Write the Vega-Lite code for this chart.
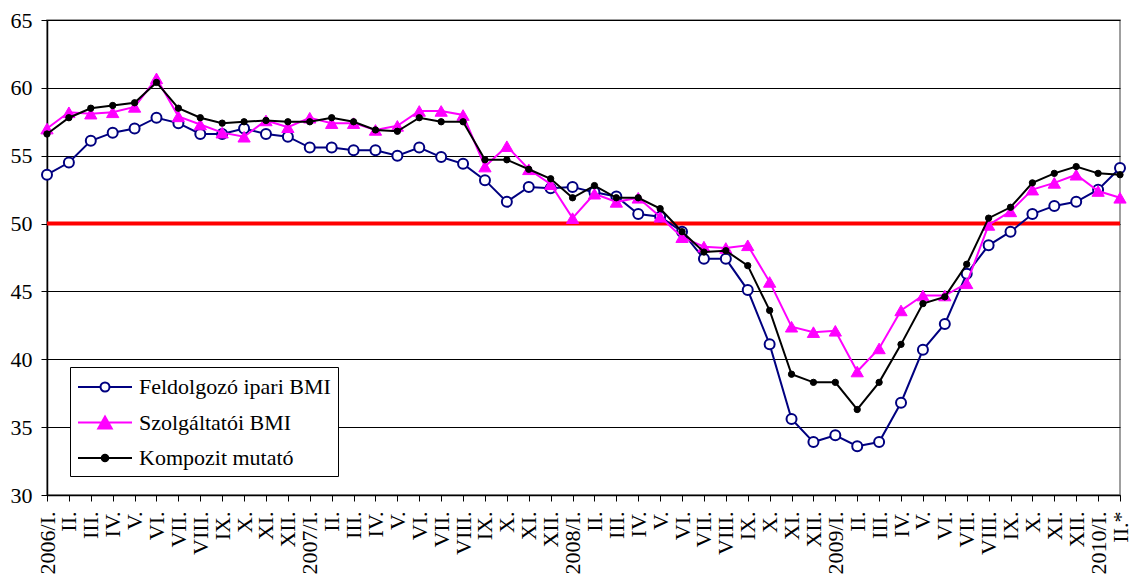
{
  "$schema": "https://vega.github.io/schema/vega-lite/v6.json",
  "width": 1073,
  "height": 475,
  "autosize": {"type": "none"},
  "padding": {"left": 47, "top": 20, "right": 11, "bottom": 84},
  "background": "white",
  "config": {
    "view": {"stroke": "#808080", "strokeWidth": 1.5},
    "font": "Liberation Serif",
    "axis": {
      "labelFont": "Liberation Serif", "labelColor": "black",
      "tickColor": "black", "tickWidth": 1, "tickSize": 6,
      "domainColor": "black", "domainWidth": 1.5
    },
    "axisX": {
      "labelExpr": "split(datum.value, '|')[1]",
      "labelAngle": -90, "labelAlign": "right", "labelBaseline": "middle",
      "labelFontSize": 22, "labelPadding": 10, "labelOverlap": false, "labelLimit": 200,
      "grid": false
    },
    "axisY": {
      "grid": true, "gridColor": "black", "gridWidth": 1, "gridOpacity": 1,
      "labelFontSize": 22, "labelPadding": 9
    },
    "legend": {
      "labelFont": "Liberation Serif", "labelFontSize": 22, "labelColor": "black", "labelLimit": 400
    }
  },
  "datasets": {
    "bmi": [
      {"month": "2006-01|2006/I.", "series": "Feldolgozó ipari BMI", "value": 53.6},
      {"month": "2006-02|II.", "series": "Feldolgozó ipari BMI", "value": 54.5},
      {"month": "2006-03|III.", "series": "Feldolgozó ipari BMI", "value": 56.1},
      {"month": "2006-04|IV.", "series": "Feldolgozó ipari BMI", "value": 56.7},
      {"month": "2006-05|V.", "series": "Feldolgozó ipari BMI", "value": 57.0},
      {"month": "2006-06|VI.", "series": "Feldolgozó ipari BMI", "value": 57.8},
      {"month": "2006-07|VII.", "series": "Feldolgozó ipari BMI", "value": 57.4},
      {"month": "2006-08|VIII.", "series": "Feldolgozó ipari BMI", "value": 56.6},
      {"month": "2006-09|IX.", "series": "Feldolgozó ipari BMI", "value": 56.6},
      {"month": "2006-10|X.", "series": "Feldolgozó ipari BMI", "value": 57.0},
      {"month": "2006-11|XI.", "series": "Feldolgozó ipari BMI", "value": 56.6},
      {"month": "2006-12|XII.", "series": "Feldolgozó ipari BMI", "value": 56.4},
      {"month": "2007-01|2007/I.", "series": "Feldolgozó ipari BMI", "value": 55.6},
      {"month": "2007-02|II.", "series": "Feldolgozó ipari BMI", "value": 55.6},
      {"month": "2007-03|III.", "series": "Feldolgozó ipari BMI", "value": 55.4},
      {"month": "2007-04|IV.", "series": "Feldolgozó ipari BMI", "value": 55.4},
      {"month": "2007-05|V.", "series": "Feldolgozó ipari BMI", "value": 55.0},
      {"month": "2007-06|VI.", "series": "Feldolgozó ipari BMI", "value": 55.6},
      {"month": "2007-07|VII.", "series": "Feldolgozó ipari BMI", "value": 54.9},
      {"month": "2007-08|VIII.", "series": "Feldolgozó ipari BMI", "value": 54.4},
      {"month": "2007-09|IX.", "series": "Feldolgozó ipari BMI", "value": 53.2},
      {"month": "2007-10|X.", "series": "Feldolgozó ipari BMI", "value": 51.6},
      {"month": "2007-11|XI.", "series": "Feldolgozó ipari BMI", "value": 52.7},
      {"month": "2007-12|XII.", "series": "Feldolgozó ipari BMI", "value": 52.6},
      {"month": "2008-01|2008/I.", "series": "Feldolgozó ipari BMI", "value": 52.7},
      {"month": "2008-02|II.", "series": "Feldolgozó ipari BMI", "value": 52.3},
      {"month": "2008-03|III.", "series": "Feldolgozó ipari BMI", "value": 52.0},
      {"month": "2008-04|IV.", "series": "Feldolgozó ipari BMI", "value": 50.7},
      {"month": "2008-05|V.", "series": "Feldolgozó ipari BMI", "value": 50.5},
      {"month": "2008-06|VI.", "series": "Feldolgozó ipari BMI", "value": 49.4},
      {"month": "2008-07|VII.", "series": "Feldolgozó ipari BMI", "value": 47.4},
      {"month": "2008-08|VIII.", "series": "Feldolgozó ipari BMI", "value": 47.4},
      {"month": "2008-09|IX.", "series": "Feldolgozó ipari BMI", "value": 45.1},
      {"month": "2008-10|X.", "series": "Feldolgozó ipari BMI", "value": 41.1},
      {"month": "2008-11|XI.", "series": "Feldolgozó ipari BMI", "value": 35.6},
      {"month": "2008-12|XII.", "series": "Feldolgozó ipari BMI", "value": 33.9},
      {"month": "2009-01|2009/I.", "series": "Feldolgozó ipari BMI", "value": 34.4},
      {"month": "2009-02|II.", "series": "Feldolgozó ipari BMI", "value": 33.6},
      {"month": "2009-03|III.", "series": "Feldolgozó ipari BMI", "value": 33.9},
      {"month": "2009-04|IV.", "series": "Feldolgozó ipari BMI", "value": 36.8},
      {"month": "2009-05|V.", "series": "Feldolgozó ipari BMI", "value": 40.7},
      {"month": "2009-06|VI.", "series": "Feldolgozó ipari BMI", "value": 42.6},
      {"month": "2009-07|VII.", "series": "Feldolgozó ipari BMI", "value": 46.3},
      {"month": "2009-08|VIII.", "series": "Feldolgozó ipari BMI", "value": 48.4},
      {"month": "2009-09|IX.", "series": "Feldolgozó ipari BMI", "value": 49.4},
      {"month": "2009-10|X.", "series": "Feldolgozó ipari BMI", "value": 50.7},
      {"month": "2009-11|XI.", "series": "Feldolgozó ipari BMI", "value": 51.3},
      {"month": "2009-12|XII.", "series": "Feldolgozó ipari BMI", "value": 51.6},
      {"month": "2010-01|2010/I.", "series": "Feldolgozó ipari BMI", "value": 52.5},
      {"month": "2010-02|II.*", "series": "Feldolgozó ipari BMI", "value": 54.1},

      {"month": "2006-01|2006/I.", "series": "Szolgáltatói BMI", "value": 57.0},
      {"month": "2006-02|II.", "series": "Szolgáltatói BMI", "value": 58.2},
      {"month": "2006-03|III.", "series": "Szolgáltatói BMI", "value": 58.1},
      {"month": "2006-04|IV.", "series": "Szolgáltatói BMI", "value": 58.2},
      {"month": "2006-05|V.", "series": "Szolgáltatói BMI", "value": 58.6},
      {"month": "2006-06|VI.", "series": "Szolgáltatói BMI", "value": 60.7},
      {"month": "2006-07|VII.", "series": "Szolgáltatói BMI", "value": 57.9},
      {"month": "2006-08|VIII.", "series": "Szolgáltatói BMI", "value": 57.3},
      {"month": "2006-09|IX.", "series": "Szolgáltatói BMI", "value": 56.7},
      {"month": "2006-10|X.", "series": "Szolgáltatói BMI", "value": 56.4},
      {"month": "2006-11|XI.", "series": "Szolgáltatói BMI", "value": 57.6},
      {"month": "2006-12|XII.", "series": "Szolgáltatói BMI", "value": 57.1},
      {"month": "2007-01|2007/I.", "series": "Szolgáltatói BMI", "value": 57.8},
      {"month": "2007-02|II.", "series": "Szolgáltatói BMI", "value": 57.4},
      {"month": "2007-03|III.", "series": "Szolgáltatói BMI", "value": 57.4},
      {"month": "2007-04|IV.", "series": "Szolgáltatói BMI", "value": 56.9},
      {"month": "2007-05|V.", "series": "Szolgáltatói BMI", "value": 57.2},
      {"month": "2007-06|VI.", "series": "Szolgáltatói BMI", "value": 58.3},
      {"month": "2007-07|VII.", "series": "Szolgáltatói BMI", "value": 58.3},
      {"month": "2007-08|VIII.", "series": "Szolgáltatói BMI", "value": 58.0},
      {"month": "2007-09|IX.", "series": "Szolgáltatói BMI", "value": 54.2},
      {"month": "2007-10|X.", "series": "Szolgáltatói BMI", "value": 55.7},
      {"month": "2007-11|XI.", "series": "Szolgáltatói BMI", "value": 54.0},
      {"month": "2007-12|XII.", "series": "Szolgáltatói BMI", "value": 52.9},
      {"month": "2008-01|2008/I.", "series": "Szolgáltatói BMI", "value": 50.4},
      {"month": "2008-02|II.", "series": "Szolgáltatói BMI", "value": 52.2},
      {"month": "2008-03|III.", "series": "Szolgáltatói BMI", "value": 51.6},
      {"month": "2008-04|IV.", "series": "Szolgáltatói BMI", "value": 51.9},
      {"month": "2008-05|V.", "series": "Szolgáltatói BMI", "value": 50.5},
      {"month": "2008-06|VI.", "series": "Szolgáltatói BMI", "value": 49.0},
      {"month": "2008-07|VII.", "series": "Szolgáltatói BMI", "value": 48.3},
      {"month": "2008-08|VIII.", "series": "Szolgáltatói BMI", "value": 48.2},
      {"month": "2008-09|IX.", "series": "Szolgáltatói BMI", "value": 48.4},
      {"month": "2008-10|X.", "series": "Szolgáltatói BMI", "value": 45.7},
      {"month": "2008-11|XI.", "series": "Szolgáltatói BMI", "value": 42.4},
      {"month": "2008-12|XII.", "series": "Szolgáltatói BMI", "value": 42.0},
      {"month": "2009-01|2009/I.", "series": "Szolgáltatói BMI", "value": 42.1},
      {"month": "2009-02|II.", "series": "Szolgáltatói BMI", "value": 39.1},
      {"month": "2009-03|III.", "series": "Szolgáltatói BMI", "value": 40.8},
      {"month": "2009-04|IV.", "series": "Szolgáltatói BMI", "value": 43.6},
      {"month": "2009-05|V.", "series": "Szolgáltatói BMI", "value": 44.7},
      {"month": "2009-06|VI.", "series": "Szolgáltatói BMI", "value": 44.7},
      {"month": "2009-07|VII.", "series": "Szolgáltatói BMI", "value": 45.6},
      {"month": "2009-08|VIII.", "series": "Szolgáltatói BMI", "value": 49.9},
      {"month": "2009-09|IX.", "series": "Szolgáltatói BMI", "value": 50.9},
      {"month": "2009-10|X.", "series": "Szolgáltatói BMI", "value": 52.5},
      {"month": "2009-11|XI.", "series": "Szolgáltatói BMI", "value": 53.0},
      {"month": "2009-12|XII.", "series": "Szolgáltatói BMI", "value": 53.6},
      {"month": "2010-01|2010/I.", "series": "Szolgáltatói BMI", "value": 52.4},
      {"month": "2010-02|II.*", "series": "Szolgáltatói BMI", "value": 51.9},

      {"month": "2006-01|2006/I.", "series": "Kompozit mutató", "value": 56.6},
      {"month": "2006-02|II.", "series": "Kompozit mutató", "value": 57.8},
      {"month": "2006-03|III.", "series": "Kompozit mutató", "value": 58.5},
      {"month": "2006-04|IV.", "series": "Kompozit mutató", "value": 58.7},
      {"month": "2006-05|V.", "series": "Kompozit mutató", "value": 58.9},
      {"month": "2006-06|VI.", "series": "Kompozit mutató", "value": 60.4},
      {"month": "2006-07|VII.", "series": "Kompozit mutató", "value": 58.5},
      {"month": "2006-08|VIII.", "series": "Kompozit mutató", "value": 57.8},
      {"month": "2006-09|IX.", "series": "Kompozit mutató", "value": 57.4},
      {"month": "2006-10|X.", "series": "Kompozit mutató", "value": 57.5},
      {"month": "2006-11|XI.", "series": "Kompozit mutató", "value": 57.6},
      {"month": "2006-12|XII.", "series": "Kompozit mutató", "value": 57.5},
      {"month": "2007-01|2007/I.", "series": "Kompozit mutató", "value": 57.5},
      {"month": "2007-02|II.", "series": "Kompozit mutató", "value": 57.8},
      {"month": "2007-03|III.", "series": "Kompozit mutató", "value": 57.5},
      {"month": "2007-04|IV.", "series": "Kompozit mutató", "value": 56.9},
      {"month": "2007-05|V.", "series": "Kompozit mutató", "value": 56.8},
      {"month": "2007-06|VI.", "series": "Kompozit mutató", "value": 57.8},
      {"month": "2007-07|VII.", "series": "Kompozit mutató", "value": 57.5},
      {"month": "2007-08|VIII.", "series": "Kompozit mutató", "value": 57.5},
      {"month": "2007-09|IX.", "series": "Kompozit mutató", "value": 54.7},
      {"month": "2007-10|X.", "series": "Kompozit mutató", "value": 54.7},
      {"month": "2007-11|XI.", "series": "Kompozit mutató", "value": 54.0},
      {"month": "2007-12|XII.", "series": "Kompozit mutató", "value": 53.3},
      {"month": "2008-01|2008/I.", "series": "Kompozit mutató", "value": 51.9},
      {"month": "2008-02|II.", "series": "Kompozit mutató", "value": 52.8},
      {"month": "2008-03|III.", "series": "Kompozit mutató", "value": 51.9},
      {"month": "2008-04|IV.", "series": "Kompozit mutató", "value": 51.9},
      {"month": "2008-05|V.", "series": "Kompozit mutató", "value": 51.1},
      {"month": "2008-06|VI.", "series": "Kompozit mutató", "value": 49.4},
      {"month": "2008-07|VII.", "series": "Kompozit mutató", "value": 47.9},
      {"month": "2008-08|VIII.", "series": "Kompozit mutató", "value": 48.0},
      {"month": "2008-09|IX.", "series": "Kompozit mutató", "value": 46.9},
      {"month": "2008-10|X.", "series": "Kompozit mutató", "value": 43.6},
      {"month": "2008-11|XI.", "series": "Kompozit mutató", "value": 38.9},
      {"month": "2008-12|XII.", "series": "Kompozit mutató", "value": 38.3},
      {"month": "2009-01|2009/I.", "series": "Kompozit mutató", "value": 38.3},
      {"month": "2009-02|II.", "series": "Kompozit mutató", "value": 36.3},
      {"month": "2009-03|III.", "series": "Kompozit mutató", "value": 38.3},
      {"month": "2009-04|IV.", "series": "Kompozit mutató", "value": 41.1},
      {"month": "2009-05|V.", "series": "Kompozit mutató", "value": 44.1},
      {"month": "2009-06|VI.", "series": "Kompozit mutató", "value": 44.6},
      {"month": "2009-07|VII.", "series": "Kompozit mutató", "value": 47.0},
      {"month": "2009-08|VIII.", "series": "Kompozit mutató", "value": 50.4},
      {"month": "2009-09|IX.", "series": "Kompozit mutató", "value": 51.2},
      {"month": "2009-10|X.", "series": "Kompozit mutató", "value": 53.0},
      {"month": "2009-11|XI.", "series": "Kompozit mutató", "value": 53.7},
      {"month": "2009-12|XII.", "series": "Kompozit mutató", "value": 54.2},
      {"month": "2010-01|2010/I.", "series": "Kompozit mutató", "value": 53.7},
      {"month": "2010-02|II.*", "series": "Kompozit mutató", "value": 53.6}
    ],
    "threshold": [{"level": 50}]
  },
  "data": {"name": "bmi"},
  "layer": [
    {
      "data": {"name": "threshold"},
      "mark": {"type": "rule", "color": "#ff0000", "strokeWidth": 4},
      "encoding": {
        "y": {
          "field": "level", "type": "quantitative",
          "scale": {"domain": [30, 65], "nice": false, "zero": false},
          "axis": {"title": null, "values": [30, 35, 40, 45, 50, 55, 60, 65], "labelFont": "Liberation Serif", "labelFontSize": 22}
        }
      }
    },
    {
      "transform": [{"filter": {"field": "series", "equal": "Feldolgozó ipari BMI"}}],
      "mark": {"type": "line", "strokeWidth": 2, "color": "#000080"},
      "encoding": {
        "x": {"field": "month", "type": "ordinal", "scale": {"type": "point", "padding": 0}, "axis": {"title": null}},
        "y": {"field": "value", "type": "quantitative", "axis": {"title": null, "values": [30, 35, 40, 45, 50, 55, 60, 65]}}
      }
    },
    {
      "transform": [{"filter": {"field": "series", "equal": "Feldolgozó ipari BMI"}}],
      "mark": {"type": "point", "shape": "circle", "fill": "#ffffff", "stroke": "#000080", "strokeWidth": 2, "size": 100, "opacity": 1},
      "encoding": {
        "x": {"field": "month", "type": "ordinal", "axis": {"title": null}},
        "y": {"field": "value", "type": "quantitative", "axis": {"title": null, "values": [30, 35, 40, 45, 50, 55, 60, 65]}}
      }
    },
    {
      "transform": [{"filter": {"field": "series", "equal": "Szolgáltatói BMI"}}],
      "mark": {"type": "line", "strokeWidth": 2, "color": "#ff00ff"},
      "encoding": {
        "x": {"field": "month", "type": "ordinal", "axis": {"title": null}},
        "y": {"field": "value", "type": "quantitative", "axis": {"title": null, "values": [30, 35, 40, 45, 50, 55, 60, 65]}}
      }
    },
    {
      "transform": [{"filter": {"field": "series", "equal": "Szolgáltatói BMI"}}],
      "mark": {"type": "point", "shape": "triangle-up", "fill": "#ff00ff", "stroke": "#ff00ff", "strokeWidth": 1, "size": 150, "opacity": 1},
      "encoding": {
        "x": {"field": "month", "type": "ordinal", "axis": {"title": null}},
        "y": {"field": "value", "type": "quantitative", "axis": {"title": null, "values": [30, 35, 40, 45, 50, 55, 60, 65]}}
      }
    },
    {
      "transform": [{"filter": {"field": "series", "equal": "Kompozit mutató"}}],
      "mark": {"type": "line", "strokeWidth": 2, "color": "#000000"},
      "encoding": {
        "x": {"field": "month", "type": "ordinal", "axis": {"title": null}},
        "y": {"field": "value", "type": "quantitative", "axis": {"title": null, "values": [30, 35, 40, 45, 50, 55, 60, 65]}}
      }
    },
    {
      "transform": [{"filter": {"field": "series", "equal": "Kompozit mutató"}}],
      "mark": {"type": "point", "shape": "circle", "fill": "#000000", "stroke": "#000000", "strokeWidth": 1, "size": 40, "opacity": 1},
      "encoding": {
        "x": {"field": "month", "type": "ordinal", "axis": {"title": null}},
        "y": {"field": "value", "type": "quantitative", "axis": {"title": null, "values": [30, 35, 40, 45, 50, 55, 60, 65]}}
      }
    },
    {
      "transform": [{"filter": {"field": "series", "equal": "none"}}],
      "mark": {"type": "point", "filled": true, "opacity": 1},
      "encoding": {
        "shape": {
          "field": "series", "type": "nominal",
          "scale": {
            "domain": ["Feldolgozó ipari BMI", "Szolgáltatói BMI", "Kompozit mutató"],
            "range": [
              "M-1,0H0.875M1.625,0H3.5M0.875,0A0.375,0.375,0,1,1,1.625,0A0.375,0.375,0,1,1,0.875,0Z",
              "M-1,0H3.5M0.6875,0.5L1.25,-0.5L1.8125,0.5Z",
              "M-1,0H3.5M0.98,0A0.27,0.27,0,1,1,1.52,0A0.27,0.27,0,1,1,0.98,0Z"
            ]
          },
          "legend": {
            "title": null, "orient": "none", "legendX": 23, "legendY": 347,
            "fillColor": "white", "strokeColor": "black", "padding": 7,
            "labelFont": "Liberation Serif", "labelFontSize": 22,
            "symbolSize": 576, "symbolStrokeWidth": 2, "symbolOpacity": 1,
            "rowPadding": 11.5, "labelOffset": 36
          }
        },
        "fill": {
          "field": "series", "type": "nominal",
          "scale": {"domain": ["Feldolgozó ipari BMI", "Szolgáltatói BMI", "Kompozit mutató"], "range": ["#ffffff", "#ff00ff", "#000000"]},
          "legend": {
            "title": null, "orient": "none", "legendX": 23, "legendY": 347,
            "fillColor": "white", "strokeColor": "black", "padding": 7,
            "labelFont": "Liberation Serif", "labelFontSize": 22,
            "symbolSize": 576, "symbolStrokeWidth": 2, "symbolOpacity": 1,
            "rowPadding": 11.5, "labelOffset": 36
          }
        },
        "stroke": {
          "field": "series", "type": "nominal",
          "scale": {"domain": ["Feldolgozó ipari BMI", "Szolgáltatói BMI", "Kompozit mutató"], "range": ["#000080", "#ff00ff", "#000000"]},
          "legend": {
            "title": null, "orient": "none", "legendX": 23, "legendY": 347,
            "fillColor": "white", "strokeColor": "black", "padding": 7,
            "labelFont": "Liberation Serif", "labelFontSize": 22,
            "symbolSize": 576, "symbolStrokeWidth": 2, "symbolOpacity": 1,
            "rowPadding": 11.5, "labelOffset": 36
          }
        }
      }
    }
  ]
}
